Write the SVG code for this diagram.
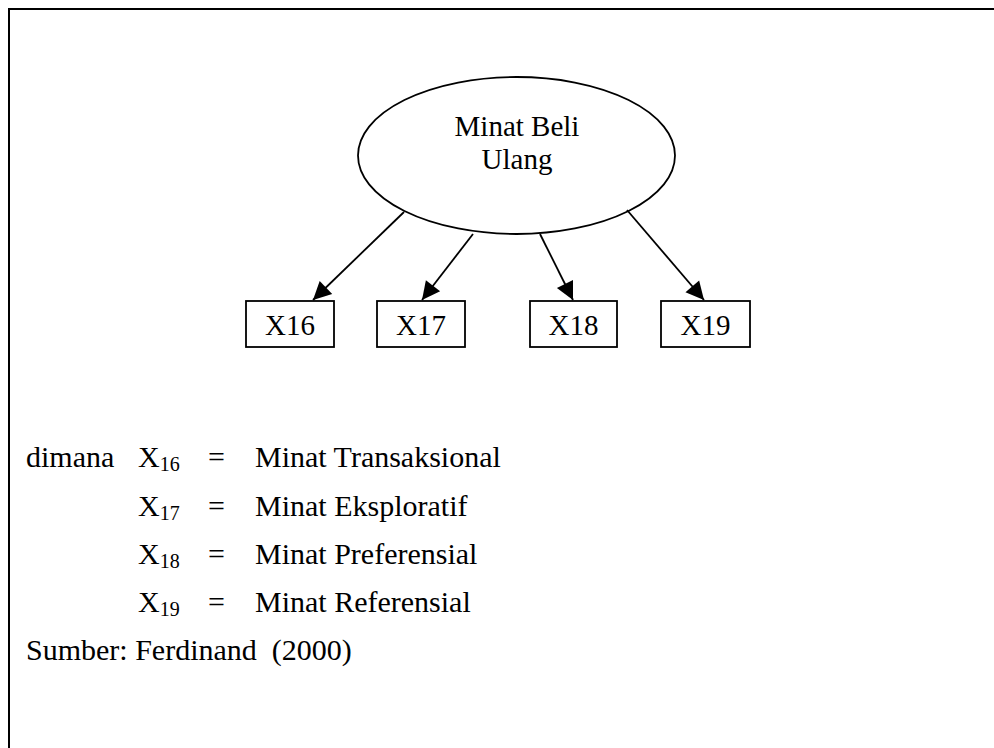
<svg xmlns="http://www.w3.org/2000/svg" width="994" height="748" viewBox="0 0 994 748">
<style>
text{font-family:"Liberation Serif","Times New Roman",serif;font-size:29px;fill:#000}
.lg{font-size:30px}
.sub{font-size:20px}
.shape{fill:#fff;stroke:#000;stroke-width:1.8}
.edge{stroke:#000;stroke-width:1.8;fill:none;marker-end:url(#ah)}
</style>
<defs>
<marker id="ah" viewBox="0 0 10 10" refX="10" refY="5" markerWidth="10" markerHeight="10" markerUnits="userSpaceOnUse" orient="auto" overflow="visible">
<path d="M0,0 L10,5 L0,10 Z" transform="translate(10,5) scale(1.8) translate(-10,-5)" fill="#000"/>
</marker>
</defs>
<rect width="994" height="748" fill="#fff"/>
<path d="M9,748 L9,9 L994,9" fill="none" stroke="#000" stroke-width="2"/>
<g id="minat-beli-ulang">
<ellipse class="shape" cx="516.5" cy="155.5" rx="158.5" ry="78.5"/>
<text x="517" y="136" text-anchor="middle">Minat Beli</text>
<text x="517" y="169" text-anchor="middle">Ulang</text>
</g>
<g id="x16"><rect class="shape" x="246" y="301" width="88" height="46"/><text x="290" y="335" text-anchor="middle">X16</text></g>
<g id="x17"><rect class="shape" x="377" y="301" width="88" height="46"/><text x="421" y="335" text-anchor="middle">X17</text></g>
<g id="x18"><rect class="shape" x="530" y="301" width="87" height="46"/><text x="573.5" y="335" text-anchor="middle">X18</text></g>
<g id="x19"><rect class="shape" x="661" y="301" width="89" height="46"/><text x="705.5" y="335" text-anchor="middle">X19</text></g>
<g id="connectors">
<line class="edge" x1="404" y1="212" x2="313" y2="300"/>
<line class="edge" x1="473" y1="234" x2="422" y2="300"/>
<line class="edge" x1="540" y1="234" x2="573" y2="300"/>
<line class="edge" x1="627" y1="210" x2="704" y2="300"/>
</g>
<g id="legend" class="lg">
<text class="lg" x="26" y="467">dimana</text>
<text class="lg" x="138" y="467">X<tspan class="sub" dy="4">16</tspan></text>
<text class="lg" x="208" y="467">=</text>
<text class="lg" x="255" y="467">Minat Transaksional</text>
<text class="lg" x="138" y="516">X<tspan class="sub" dy="4">17</tspan></text>
<text class="lg" x="208" y="516">=</text>
<text class="lg" x="255" y="516">Minat Eksploratif</text>
<text class="lg" x="138" y="564">X<tspan class="sub" dy="4">18</tspan></text>
<text class="lg" x="208" y="564">=</text>
<text class="lg" x="255" y="564">Minat Preferensial</text>
<text class="lg" x="138" y="612">X<tspan class="sub" dy="4">19</tspan></text>
<text class="lg" x="208" y="612">=</text>
<text class="lg" x="255" y="612">Minat Referensial</text>
<text class="lg" x="26" y="660" xml:space="preserve">Sumber: Ferdinand  (2000)</text>
</g>
</svg>
